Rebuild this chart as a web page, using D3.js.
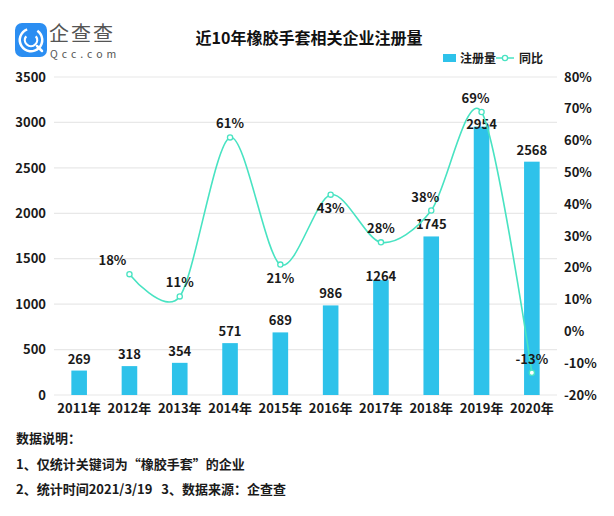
<!DOCTYPE html>
<html>
<head>
<meta charset="utf-8">
<script src="https://cdn.jsdelivr.net/npm/d3@7"></script>
<style>
  body { margin: 0; background: #fff; }
  svg { display: block; font-family: "Noto Sans CJK SC", "Noto Sans", sans-serif; }
</style>
</head>
<body>
<svg id="chart"></svg>
<script>
// data
var years = ["2011年", "2012年", "2013年", "2014年", "2015年", "2016年", "2017年", "2018年", "2019年", "2020年"];
var registrations = [269, 318, 354, 571, 689, 986, 1264, 1745, 2954, 2568];
var growth = [null, 18, 11, 61, 21, 43, 28, 38, 69, -13];
var leftTicks = [0, 500, 1000, 1500, 2000, 2500, 3000, 3500];
var rightTicks = [-20, -10, 0, 10, 20, 30, 40, 50, 60, 70, 80];
// where each growth label sits relative to its point
var growthLabelSide = [null, "top", "top", "top", "bottom", "bottom", "top", "top", "top", "top"];

var width = 614,
    height = 516;

var barColor = "#2ec2ea",
    lineColor = "#48e3c2",
    textColor = "#1a1a1a";

var svg = d3.select("#chart")
    .attr("width", width)
    .attr("height", height);

// scales
var x = d3.scaleBand()
    .domain(years)
    .range([54, 557])
    .paddingInner(0.69)
    .paddingOuter(0.345);

var yLeft = d3.scaleLinear()
    .domain([0, 3500])
    .range([395, 77]);

var yRight = d3.scaleLinear()
    .domain([-20, 80])
    .range([395, 77]);

// grid lines
svg.append("g")
    .selectAll("line")
    .data(leftTicks).enter()
    .append("line")
    .attr("x1", 54)
    .attr("x2", 557)
    .attr("y1", function(d) { return yLeft(d); })
    .attr("y2", function(d) { return yLeft(d); })
    .attr("stroke", "#e8e8e8")
    .attr("stroke-width", 1.2);

// left axis
var leftAxis = svg.append("g")
    .attr("transform", "translate(46,0)")
    .call(d3.axisLeft(yLeft).tickValues(leftTicks).tickSize(0).tickPadding(0)
        .tickFormat(d3.format("d")));
leftAxis.select(".domain").remove();
leftAxis.selectAll("text")
    .attr("font-size", 13)
    .attr("font-weight", "bold")
    .attr("fill", textColor)
    .attr("font-family", "Noto Sans CJK SC");

// right axis
var rightAxis = svg.append("g")
    .attr("transform", "translate(564,0)")
    .call(d3.axisRight(yRight).tickValues(rightTicks).tickSize(0).tickPadding(0)
        .tickFormat(function(d) { return d + "%"; }));
rightAxis.select(".domain").remove();
rightAxis.selectAll("text")
    .attr("font-size", 13)
    .attr("font-weight", "bold")
    .attr("fill", textColor)
    .attr("font-family", "Noto Sans CJK SC");

// x axis
var xAxis = svg.append("g")
    .attr("transform", "translate(0,404)")
    .call(d3.axisBottom(x).tickSize(0).tickPadding(0));
xAxis.select(".domain").remove();
xAxis.selectAll("text")
    .attr("font-size", 13)
    .attr("font-weight", "bold")
    .attr("fill", textColor)
    .attr("font-family", "Noto Sans CJK SC");

// bars
svg.append("g")
    .selectAll("rect")
    .data(registrations).enter()
    .append("rect")
    .attr("x", function(d, i) { return x(years[i]); })
    .attr("y", function(d) { return yLeft(d); })
    .attr("width", x.bandwidth())
    .attr("height", function(d) { return yLeft(0) - yLeft(d); })
    .attr("fill", barColor);

// bar labels
svg.append("g")
    .selectAll("text")
    .data(registrations).enter()
    .append("text")
    .attr("x", function(d, i) { return x(years[i]) + x.bandwidth() / 2; })
    .attr("y", function(d, i) {
        // the 1264 and 2954 labels are tucked lower in the original
        var shift = (i === 6) ? 8 : (i === 8) ? 9 : 0;
        return yLeft(d) - 7 + shift;
    })
    .attr("text-anchor", "middle")
    .attr("font-size", 13)
    .attr("font-weight", "bold")
    .attr("fill", textColor)
    .text(function(d) { return d; });

// growth line
var points = [];
growth.forEach(function(d, i) {
    if (d !== null) {
        points.push({ x: x(years[i]) + x.bandwidth() / 2, y: yRight(d), v: d, i: i });
    }
});

var line = d3.line()
    .x(function(d) { return d.x; })
    .y(function(d) { return d.y; })
    .curve(d3.curveCardinal.tension(0.1));

svg.append("path")
    .datum(points)
    .attr("d", line)
    .attr("fill", "none")
    .attr("stroke", lineColor)
    .attr("stroke-width", 1.6);

svg.append("g")
    .selectAll("circle")
    .data(points).enter()
    .append("circle")
    .attr("cx", function(d) { return d.x; })
    .attr("cy", function(d) { return d.y; })
    .attr("r", 2.6)
    .attr("fill", "#fff")
    .attr("stroke", lineColor)
    .attr("stroke-width", 1.3);

svg.append("g")
    .selectAll("text")
    .data(points).enter()
    .append("text")
    .attr("x", function(d) {
        if (d.i === 1) return d.x - 17;
        if (d.i === 7 || d.i === 8) return d.x - 6;
        return d.x;
    })
    .attr("y", function(d) {
        return growthLabelSide[d.i] === "top" ? d.y - 9 : d.y + 18;
    })
    .attr("text-anchor", "middle")
    .attr("font-size", 13)
    .attr("font-weight", "bold")
    .attr("fill", textColor)
    .text(function(d) { return d.v + "%"; });

// title
svg.append("text")
    .attr("x", 309)
    .attr("y", 44)
    .attr("text-anchor", "middle")
    .attr("font-size", 16)
    .attr("font-weight", "bold")
    .attr("fill", "#111")
    .text("近10年橡胶手套相关企业注册量");

// legend
var legend = svg.append("g");
legend.append("rect")
    .attr("x", 443).attr("y", 54)
    .attr("width", 13).attr("height", 8)
    .attr("fill", barColor);
legend.append("text")
    .attr("x", 460).attr("y", 63)
    .attr("font-size", 12)
    .attr("font-weight", "bold")
    .attr("fill", textColor)
    .text("注册量");
legend.append("line")
    .attr("x1", 496).attr("x2", 514)
    .attr("y1", 58).attr("y2", 58)
    .attr("stroke", lineColor).attr("stroke-width", 1.5);
legend.append("circle")
    .attr("cx", 505).attr("cy", 58).attr("r", 2.6)
    .attr("fill", "#fff").attr("stroke", lineColor).attr("stroke-width", 1.3);
legend.append("text")
    .attr("x", 519).attr("y", 63)
    .attr("font-size", 12)
    .attr("font-weight", "bold")
    .attr("fill", textColor)
    .text("同比");

// logo
var logo = svg.append("g");
logo.append("rect")
    .attr("x", 15).attr("y", 23)
    .attr("width", 32).attr("height", 34)
    .attr("rx", 7)
    .attr("fill", "#2b8ef2");
logo.append("path")
    .attr("d", d3.arc()({ innerRadius: 10, outerRadius: 12.5, startAngle: 0.6, endAngle: 2 * Math.PI - 0.35 }))
    .attr("transform", "translate(31,40)")
    .attr("fill", "#fff");
logo.append("path")
    .attr("d", d3.arc()({ innerRadius: 5, outerRadius: 7.3, startAngle: 0.9, endAngle: 2 * Math.PI - 0.9 }))
    .attr("transform", "translate(31,40)")
    .attr("fill", "#fff");
logo.append("line")
    .attr("x1", 37).attr("y1", 46).attr("x2", 42).attr("y2", 51)
    .attr("stroke", "#fff").attr("stroke-width", 2.5).attr("stroke-linecap", "round");
logo.append("text")
    .attr("x", 49).attr("y", 41)
    .attr("font-size", 20)
    .attr("fill", "#555")
    .attr("letter-spacing", 2)
    .text("企查查");
logo.append("text")
    .attr("x", 50).attr("y", 58)
    .attr("font-size", 10.5)
    .attr("fill", "#555")
    .attr("letter-spacing", 4)
    .text("Qcc.com");

// notes
var notes = ["数据说明：", "1、仅统计关键词为“橡胶手套”的企业", "2、统计时间2021/3/19\u00a0\u00a0 3、数据来源：企查查"];
svg.append("g")
    .selectAll("text")
    .data(notes).enter()
    .append("text")
    .attr("x", 16)
    .attr("y", function(d, i) { return 443 + i * 25.5; })
    .attr("font-size", 13)
    .attr("font-weight", "bold")
    .attr("fill", textColor)
    .attr("xml:space", "preserve")
    .text(function(d) { return d; });
</script>
</body>
</html>
